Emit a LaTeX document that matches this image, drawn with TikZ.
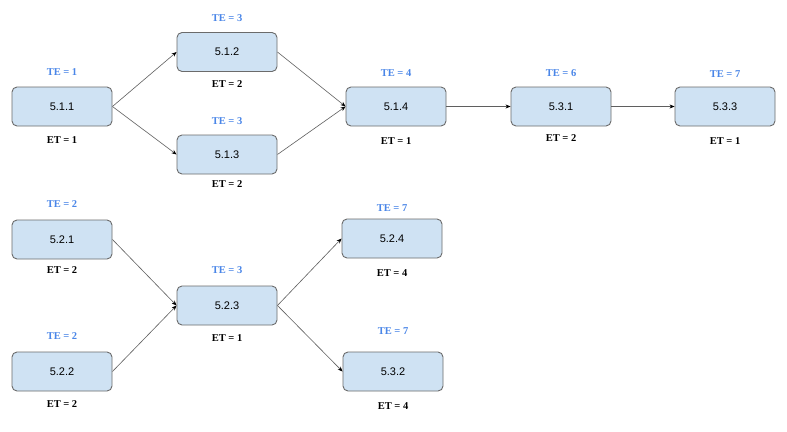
\documentclass[tikz,border=0pt]{standalone}
\usepackage{fontspec}
\setmainfont{Liberation Serif}
\setsansfont{Liberation Sans}
\usetikzlibrary{arrows.meta}
\definecolor{boxfill}{HTML}{CFE2F3}
\definecolor{boxline}{HTML}{6B6B6B}
\definecolor{tecol}{HTML}{4A86E8}
\definecolor{edgecol}{HTML}{5F5F5F}
\tikzset{
  task/.style={draw=boxline, line width=0.9pt, fill=boxfill, rounded corners=5pt,
    minimum width=100pt, minimum height=39pt, inner sep=0pt,
    font=\sffamily\fontsize{11}{13}\selectfont, text=black},
  telab/.style={font=\rmfamily\bfseries\fontsize{10.5}{12}\selectfont, text=tecol, inner sep=0pt},
  etlab/.style={font=\rmfamily\bfseries\fontsize{10.5}{12}\selectfont, text=black, inner sep=0pt},
  edge/.style={draw=edgecol, line width=0.6pt, -{Stealth[length=5pt,width=4pt,color=black]}}
}
\begin{document}
\begin{tikzpicture}[x=1pt,y=-1pt]
\useasboundingbox[fill=white] (0,0) rectangle (787,431);
% nodes
\node[task] (n511) at (62,106.5) {5.1.1};
\node[task] (n512) at (227,52) {5.1.2};
\node[task] (n513) at (227,154.5) {5.1.3};
\node[task] (n514) at (396,106.5) {5.1.4};
\node[task] (n531) at (561,106.5) {5.3.1};
\node[task] (n533) at (725,106.5) {5.3.3};
\node[task] (n521) at (62,239.5) {5.2.1};
\node[task] (n523) at (227,305.5) {5.2.3};
\node[task] (n524) at (392,238.5) {5.2.4};
\node[task] (n522) at (62,371.5) {5.2.2};
\node[task] (n532) at (393,371.5) {5.3.2};
% TE labels
\node[telab] (te511) at (62,72) {TE = 1};
\node[telab] (te512) at (227,18) {TE = 3};
\node[telab] (te513) at (227,121) {TE = 3};
\node[telab] (te514) at (396,73) {TE = 4};
\node[telab] (te531) at (561,73) {TE = 6};
\node[telab] (te533) at (725,74) {TE = 7};
\node[telab] (te521) at (62,204) {TE = 2};
\node[telab] (te523) at (227,270) {TE = 3};
\node[telab] (te524) at (392,208) {TE = 7};
\node[telab] (te522) at (62,336) {TE = 2};
\node[telab] (te532) at (393,331) {TE = 7};
% ET labels
\node[etlab] (et511) at (62,140) {ET = 1};
\node[etlab] (et512) at (227,84) {ET = 2};
\node[etlab] (et513) at (227,184) {ET = 2};
\node[etlab] (et514) at (396,141) {ET = 1};
\node[etlab] (et531) at (561,138) {ET = 2};
\node[etlab] (et533) at (725,141) {ET = 1};
\node[etlab] (et521) at (62,270) {ET = 2};
\node[etlab] (et523) at (227,338) {ET = 1};
\node[etlab] (et524) at (392,273) {ET = 4};
\node[etlab] (et522) at (62,404) {ET = 2};
\node[etlab] (et532) at (393,406) {ET = 4};
% edges
\draw[edge] (n511.east) -- (n512.west);
\draw[edge] (n511.east) -- (n513.west);
\draw[edge] (n512.east) -- (n514.west);
\draw[edge] (n513.east) -- (n514.west);
\draw[edge] (n514.east) -- (n531.west);
\draw[edge] (n531.east) -- (n533.west);
\draw[edge] (n521.east) -- (n523.west);
\draw[edge] (n522.east) -- (n523.west);
\draw[edge] (n523.east) -- (n524.west);
\draw[edge] (n523.east) -- (n532.west);
\end{tikzpicture}
\end{document}
